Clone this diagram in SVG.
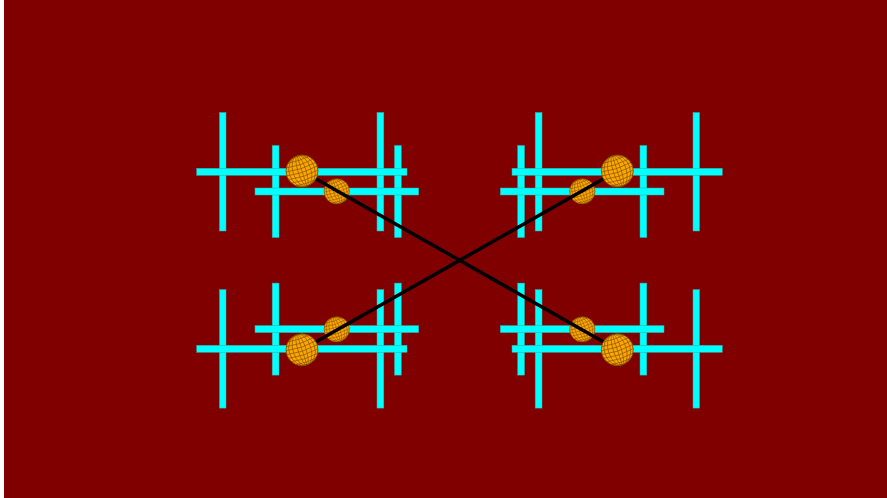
<svg xmlns="http://www.w3.org/2000/svg" width="887" height="498" viewBox="0 0 887 498">
<style>
.bar{fill:#00FFFF;stroke:#3aa8a0;stroke-width:0.5}
.lnk{stroke:#000;stroke-width:3.5;fill:none;stroke-linecap:round}
.mesh{fill:none;stroke:#7a5200;stroke-width:0.6}
</style>
<defs>
<clipPath id="c"><circle r="16"/></clipPath>
<g id="sph">
<circle r="16" fill="#FFA500"/>
<g clip-path="url(#c)" class="mesh" transform="rotate(-18)">
<ellipse rx="4" ry="16"/><ellipse rx="9" ry="16"/><ellipse rx="13" ry="16"/><line x1="0" y1="-16" x2="0" y2="16"/>
<path d="M-16,-12 Q0,-10 16,-12 M-16,-8 Q0,-5 16,-8 M-16,-4 Q0,-1 16,-4 M-16,0 Q0,3 16,0 M-16,4 Q0,7 16,4 M-16,8 Q0,11 16,8 M-16,12 Q0,14 16,12"/>
</g>
<circle r="16" fill="none" stroke="#6b4a00" stroke-width="0.8"/>
</g>
<g id="bars">
<rect class="bar" x="219.5" y="112.5" width="6.5" height="118.5"/>
<rect class="bar" x="272.2" y="145.5" width="6.8" height="92"/>
<rect class="bar" x="377" y="112.5" width="6.8" height="118.5"/>
<rect class="bar" x="394.5" y="145.5" width="6.8" height="92"/>
<rect class="bar" x="196.7" y="168.3" width="210.3" height="7"/>
<rect class="bar" x="255" y="188" width="163.7" height="7"/>
</g>
</defs>
<rect x="0" y="0" width="887" height="498" fill="#ffffff"/>
<rect x="4" y="0" width="883" height="498" fill="#800000"/>
<g id="cluster-top-left"><use href="#bars"/></g>
<g id="cluster-top-right" transform="translate(919,0) scale(-1,1)"><use href="#bars"/></g>
<g id="cluster-bottom-left" transform="translate(0,520.6) scale(1,-1)"><use href="#bars"/></g>
<g id="cluster-bottom-right" transform="translate(919,520.6) scale(-1,-1)"><use href="#bars"/></g>
<g id="small-spheres">
<use href="#sph" transform="translate(336.7,191.3) scale(0.79)"/>
<use href="#sph" transform="translate(582.3,191.3) scale(0.79)"/>
<use href="#sph" transform="translate(336.7,329.3) scale(0.79)"/>
<use href="#sph" transform="translate(582.3,329.3) scale(0.79)"/>
</g>
<g id="connectors">
<line class="lnk" x1="302" y1="171" x2="617.3" y2="349.7"/>
<line class="lnk" x1="617.3" y1="171" x2="302" y2="349.7"/>
</g>
<g id="big-spheres">
<use href="#sph" transform="translate(302,171)"/>
<use href="#sph" transform="translate(617.3,171)"/>
<use href="#sph" transform="translate(302,349.7)"/>
<use href="#sph" transform="translate(617.3,349.7)"/>
</g>
</svg>
